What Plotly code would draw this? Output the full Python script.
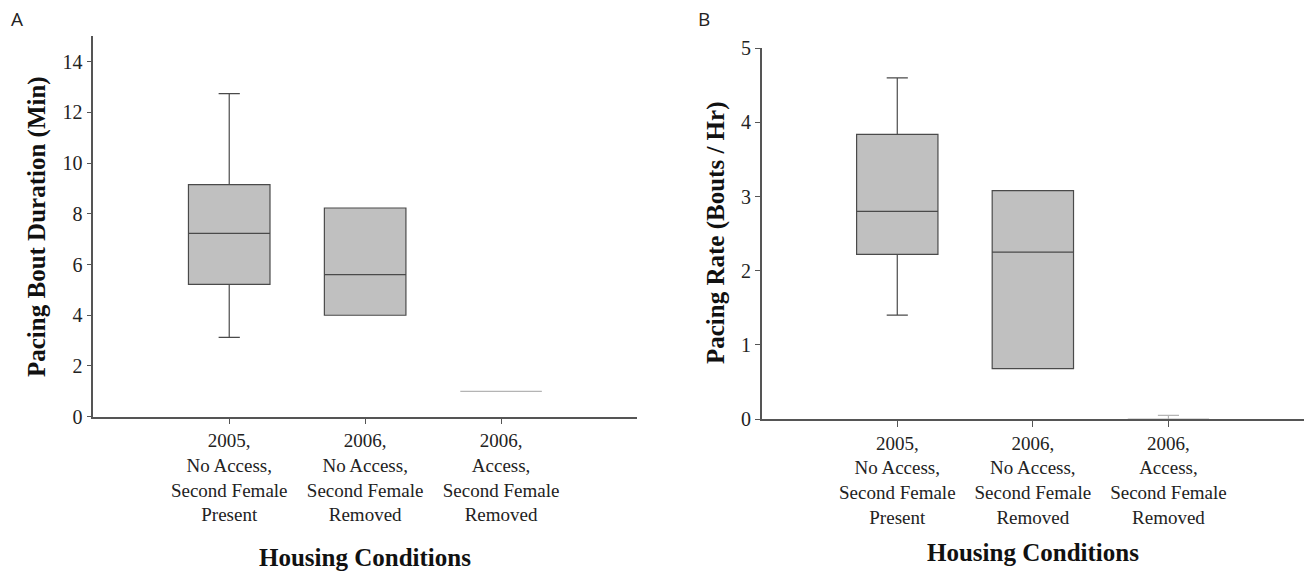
import plotly.graph_objects as go

W, H = 1304, 575

categories = ["2005,<br>No Access,<br>Second Female<br>Present",
              "2006,<br>No Access,<br>Second Female<br>Removed",
              "2006,<br>Access,<br>Second Female<br>Removed"]
cat_pos = [0, 1, 2]

# Panel A: Pacing bout duration (min)
a_q1 = [5.22, 4.00, 1.00]
a_median = [7.23, 5.60, 1.00]
a_q3 = [9.15, 8.23, 1.00]
a_low = [3.13, 4.00, 1.00]
a_high = [12.74, 8.23, 1.00]

# Panel B: Pacing rate (bouts / hr)
b_q1 = [2.22, 0.68, 0.00]
b_median = [2.80, 2.25, 0.00]
b_q3 = [3.84, 3.08, 0.00]
b_low = [1.40, 0.68, 0.00]
b_high = [4.60, 3.08, 0.05]

a_ticks = [0, 2, 4, 6, 8, 10, 12, 14]
b_ticks = [0, 1, 2, 3, 4, 5]

FILL = "#c0c0c0"
LINE = "#4a4a4a"
LIGHT = "#b4b4b4"
AXIS = "#555555"
SERIF = "Liberation Serif, Times New Roman, serif"

fig = go.Figure()

def add_boxes(q1, med, q3, lo, hi, xa, ya):
    for i in range(3):
        light = i == 2
        fig.add_trace(go.Box(
            x=[cat_pos[i]], q1=[q1[i]], median=[med[i]], q3=[q3[i]],
            lowerfence=[lo[i]], upperfence=[hi[i]],
            width=0.6, whiskerwidth=0.26,
            fillcolor=FILL if not light else "rgba(0,0,0,0)",
            line=dict(color=LIGHT if light else LINE, width=1.2),
            boxpoints=False, showlegend=False, hoverinfo="skip",
            xaxis=xa, yaxis=ya))

add_boxes(a_q1, a_median, a_q3, a_low, a_high, "x", "y")
add_boxes(b_q1, b_median, b_q3, b_low, b_high, "x2", "y2")

def px(v):
    return min(1.0, v / W)

def py(v):
    return 1 - v / H

axis_common = dict(showline=True, linecolor=AXIS, linewidth=1.5, ticks="outside",
                   tickcolor=AXIS, tickwidth=1.2, showgrid=False, zeroline=False,
                   automargin=False,
                   tickfont=dict(family=SERIF, size=19, color="#222"))
yfont = dict(family=SERIF, size=20, color="#222")

fig.update_layout(
    width=W, height=H,
    margin=dict(l=0, r=0, t=0, b=0, pad=0),
    paper_bgcolor="white", plot_bgcolor="white",
    boxmode="overlay",
    xaxis=dict(domain=[px(93.3), px(637)], range=[-1, 3], tickvals=cat_pos,
               ticktext=categories, ticklen=6, anchor="y", **axis_common),
    yaxis=dict(domain=[py(416.7), py(36.3)], range=[0, 15], tickvals=a_ticks,
               ticklen=5, anchor="x", **{**axis_common, "tickfont": yfont}),
    xaxis2=dict(domain=[px(761.7), 1.0], range=[-1, 3], tickvals=cat_pos,
                ticktext=categories, ticklen=6, anchor="y2", **axis_common),
    yaxis2=dict(domain=[py(419), py(48.3)], range=[0, 5], tickvals=b_ticks,
                ticklen=5, anchor="x2", **{**axis_common, "tickfont": yfont}),
)

title_font = dict(family=SERIF, size=25, color="#111")
ann = [
    dict(text="<b>Pacing Bout Duration (Min)</b>", x=px(37), y=py(227), textangle=-90,
         font=title_font),
    dict(text="<b>Pacing Rate (Bouts / Hr)</b>", x=px(716), y=py(233), textangle=-90,
         font=title_font),
    dict(text="<b>Housing Conditions</b>", x=px(365), y=py(557), font=title_font),
    dict(text="<b>Housing Conditions</b>", x=px(1033), y=py(552), font=title_font),
    dict(text="A", x=px(17), y=py(19), font=dict(family="Open Sans, sans-serif", size=19, color="#222")),
    dict(text="B", x=px(704), y=py(19), font=dict(family="Open Sans, sans-serif", size=19, color="#222")),
]
for a in ann:
    a.update(xref="paper", yref="paper", showarrow=False, xanchor="center", yanchor="middle")
fig.update_layout(annotations=ann)

fig.write_html("out.html",
               config={"displayModeBar": False},
               post_script="document.body.style.margin='0';document.body.style.overflow='hidden';")
